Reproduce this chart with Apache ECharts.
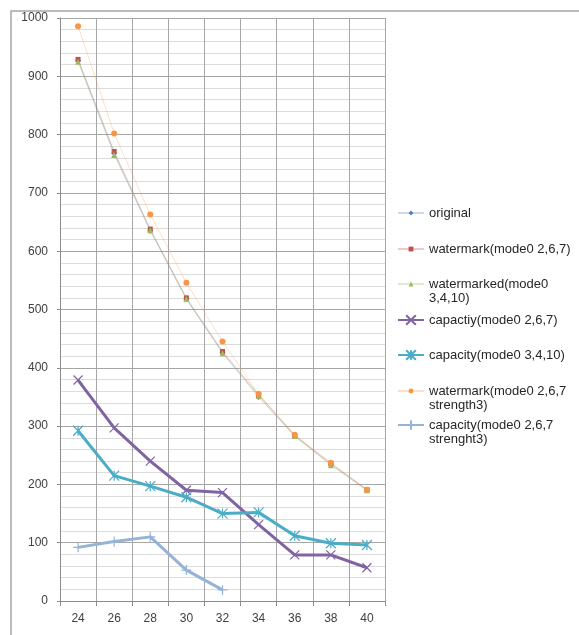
<!DOCTYPE html>
<html><head><meta charset="utf-8">
<script src="https://cdn.jsdelivr.net/npm/echarts@6/dist/echarts.min.js"></script>
<style>html,body{margin:0;padding:0;background:#fff}#c{width:579px;height:635px}</style>
</head><body><div id="c"></div>
<script>
// ---- data ----
const categories = ['24','26','28','30','32','34','36','38','40'];
const original        = [927, 768, 635, 518, 426, 350, 283, 234, 190];
const watermark267    = [929, 771, 638, 520, 428, 354, 284, 236, 191];
const watermarked3410 = [925, 765, 636, 518, 425, 352, 283, 233, 190];
const capacity267     = [379, 297, 240, 190, 186, 131, 79, 79, 57];
const capacity3410    = [292, 215, 197, 178, 150, 152, 112, 99, 96];
const watermark267s3  = [986, 802, 663, 546, 445, 355, 285, 237, 191];
const capacity267s3   = [92, 102, 110, 53, 19, null, null, null, null];
const yMin = 0, yMax = 1000, yStep = 100;
const seriesNames = ['original','watermark(mode0 2,6,7)','watermarked(mode0 3,4,10)','capactiy(mode0 2,6,7)','capacity(mode0 3,4,10)','watermark(mode0 2,6,7 strength3)','capacity(mode0 2,6,7 strenght3)'];
const legendLine1 = ['original','watermark(mode0 2,6,7)','watermarked(mode0','capactiy(mode0 2,6,7)','capacity(mode0 3,4,10)','watermark(mode0 2,6,7','capacity(mode0 2,6,7'];
const legendLine2 = ['','','3,4,10)','','','strength3)','strenght3)'];

// ---- styling / layout ----
const colors = ['#4F81BD','#C0504D','#9BBB59','#8064A2','#4BACC6','#F79646','#95B3D7'];
const seriesData = [original, watermark267, watermarked3410, capacity267, capacity3410, watermark267s3, capacity267s3];
const X_PATH = 'path://M0,0L10,10M10,0L0,10';
const STAR_PATH = 'path://M0,0L10,10M10,0L0,10M5,0L5,10';
const PLUS_PATH = 'path://M0,5L10,5M5,0L5,10';
const symbols = ['diamond','rect','triangle',X_PATH,STAR_PATH,'circle',PLUS_PATH];
const symSizes = [6,5,6,9,10,6,10];
const thick = [false,false,false,true,true,false,true];
const legendY = [213,249,284,320,355,391,425];
const FONT = '"Liberation Sans", Arial, sans-serif';

const series = seriesData.map((d, i) => {
  const isThick = thick[i];
  return {
    name: seriesNames[i],
    type: 'line',
    data: d,
    symbol: symbols[i],
    symbolSize: symSizes[i],
    showSymbol: true,
    connectNulls: false,
    lineStyle: isThick ? {color: colors[i], width: 3} : {color: colors[i], width: 1, opacity: 0.3},
    itemStyle: isThick ? {color: colors[i], borderColor: colors[i], borderWidth: 1.2} : {color: colors[i], borderWidth: 0},
    emphasis: {disabled: true},
    z: 2 + i
  };
});

const legends = seriesNames.map((n, i) => ({
  data: [n],
  left: 397,
  top: legendY[i] - 8,
  orient: 'vertical',
  padding: 0,
  itemWidth: 26,
  itemHeight: thick[i] ? 12 : 6,
  selectedMode: false,
  formatter: () => legendLine1[i],
  textStyle: {fontFamily: FONT, fontSize: 13, color: '#262626', lineHeight: 16}
}));

const graphics = [{
  type: 'rect', shape: {x: 11, y: 11, width: 700, height: 700},
  style: {fill: 'none', stroke: '#a6a6a6', lineWidth: 1.5}, silent: true, z: -1
}];
legendLine2.forEach((t, i) => {
  if (!t) return;
  graphics.push({
    type: 'text', left: 429, top: legendY[i] + 16 - 8,
    style: {text: t, font: '13px ' + FONT, fill: '#262626'}
  });
});

const chart = echarts.init(document.getElementById('c'), null, {renderer: 'canvas'});
chart.setOption({
  animation: false,
  backgroundColor: '#fff',
  grid: {left: 60, top: 18, right: 194, bottom: 34, containLabel: false},
  legend: legends,
  graphic: graphics,
  xAxis: {
    type: 'category', data: categories, boundaryGap: true,
    axisLine: {lineStyle: {color: '#8c8c8c', width: 1}},
    axisTick: {show: true, length: 5, interval: 0, lineStyle: {color: '#8c8c8c'}},
    axisLabel: {fontFamily: FONT, fontSize: 12, color: '#404040', margin: 12, interval: 0},
    splitLine: {show: true, interval: 0, lineStyle: {color: '#a6a6a6', width: 1}}
  },
  yAxis: {
    type: 'value', min: yMin, max: yMax, interval: yStep,
    axisLine: {show: true, lineStyle: {color: '#8c8c8c', width: 1}},
    axisTick: {show: true, length: 3, lineStyle: {color: '#8c8c8c'}},
    axisLabel: {fontFamily: FONT, fontSize: 12, color: '#404040', margin: 12, formatter: v => String(v)},
    splitLine: {show: true, lineStyle: {color: '#a6a6a6', width: 1}},
    minorTick: {show: false, splitNumber: 5},
    minorSplitLine: {show: true, lineStyle: {color: '#dcdcdc', width: 1}}
  },
  series: series
});
</script>
</body></html>
